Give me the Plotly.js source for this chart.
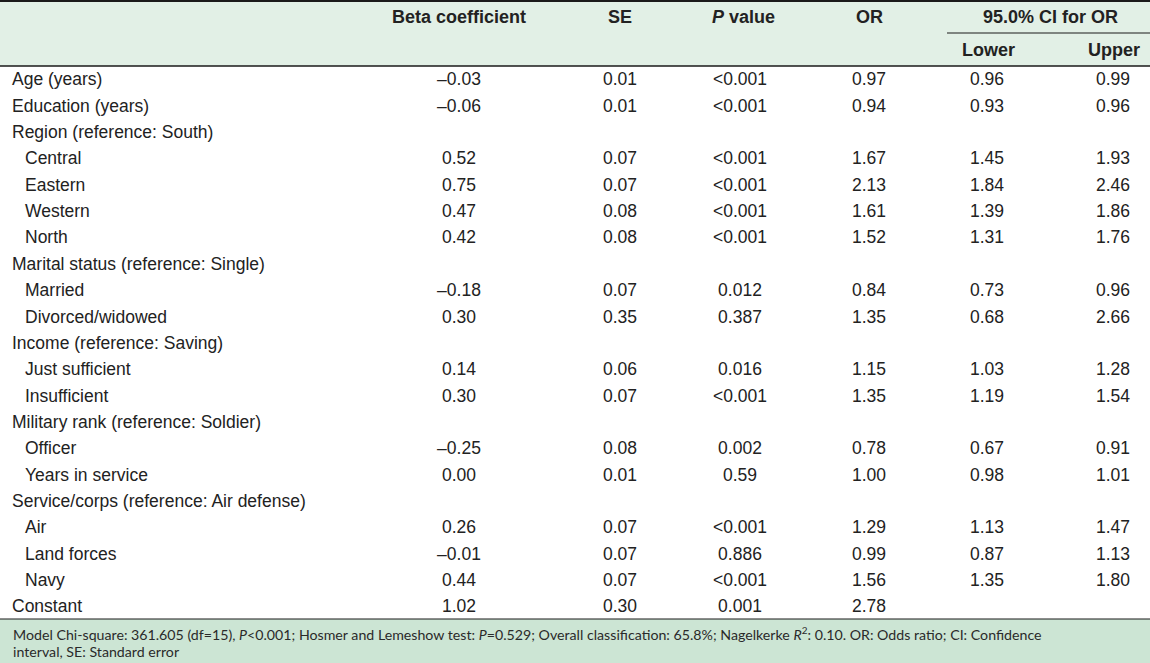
<!DOCTYPE html>
<html>
<head>
<meta charset="utf-8">
<script src="https://cdn.plot.ly/plotly-3.0.1.min.js"></script>
<style>html,body{margin:0;padding:0;background:#fff;}#chart{width:1150px;height:663px;}</style>
</head>
<body>
<div id="chart"></div>
<script>
// ---- Data ----
const rowLabels = ["Age (years)","Education (years)","Region (reference: South)","Central","Eastern","Western","North",
  "Marital status (reference: Single)","Married","Divorced/widowed","Income (reference: Saving)","Just sufficient","Insufficient",
  "Military rank (reference: Soldier)","Officer","Years in service","Service/corps (reference: Air defense)","Air","Land forces","Navy","Constant"];
const rowIndent = [0,0,0,1,1,1,1,0,1,1,0,1,1,0,1,1,0,1,1,1,0];
const betaCoef = [-0.03,-0.06,null,0.52,0.75,0.47,0.42,null,-0.18,0.30,null,0.14,0.30,null,-0.25,0.00,null,0.26,-0.01,0.44,1.02];
const seVals   = [0.01,0.01,null,0.07,0.07,0.08,0.08,null,0.07,0.35,null,0.06,0.07,null,0.08,0.01,null,0.07,0.07,0.07,0.30];
const pVals    = ["<0.001","<0.001",null,"<0.001","<0.001","<0.001","<0.001",null,"0.012","0.387",null,"0.016","<0.001",null,"0.002","0.59",null,"<0.001","0.886","<0.001","0.001"];
const orVals   = [0.97,0.94,null,1.67,2.13,1.61,1.52,null,0.84,1.35,null,1.15,1.35,null,0.78,1.00,null,1.29,0.99,1.56,2.78];
const ciLower  = [0.96,0.93,null,1.45,1.84,1.39,1.31,null,0.73,0.68,null,1.03,1.19,null,0.67,0.98,null,1.13,0.87,1.35,null];
const ciUpper  = [0.99,0.96,null,1.93,2.46,1.86,1.76,null,0.96,2.66,null,1.28,1.54,null,0.91,1.01,null,1.47,1.13,1.80,null];
const headerLabels = ["Beta coefficient","SE","<i>P</i> value","OR","95.0% CI for OR"];
const subHeaderLabels = ["Lower","Upper"];
const footnoteLines = [
  "Model Chi-square: 361.605 (df=15), <i>P</i>&lt;0.001; Hosmer and Lemeshow test: <i>P</i>=0.529; Overall classification: 65.8%; Nagelkerke <i>R</i><sup>2</sup>: 0.10. OR: Odds ratio; CI: Confidence",
  "interval, SE: Standard error"
];

// ---- Layout geometry (pixels) ----
const W = 1150, H = 663;
const firstRowPx = 81, lastRowPx = 608;
const nRows = rowLabels.length;
const rowStep = (lastRowPx - firstRowPx) / (nRows - 1);
const yTop = -firstRowPx / rowStep;          // row value at pixel 0
const yBot = (H - firstRowPx) / rowStep;     // row value at pixel H
const py = px => 1 - px / H;                 // pixel -> paper

const colX = {beta: 459, se: 620, p: 740, or: 869, lower: 987, upper: 1113};
const labelX = [12, 25];

const fmtNum = v => v.toFixed(2).replace("-", "\u2013");
const esc = s => s.replace("<", "&lt;");

const bodyFont = {family: "Liberation Sans, Arial, sans-serif", size: 17.5, color: "#222"};

function colTrace(x, vals, f) {
  const idx = vals.map((v, i) => (v === null ? -1 : i)).filter(i => i >= 0);
  return {type: "scatter", mode: "text", x: idx.map(() => x), y: idx, text: idx.map(i => f(vals[i])),
    textposition: "middle center", textfont: bodyFont, hoverinfo: "skip", showlegend: false, cliponaxis: false};
}

const traces = [
  {type: "scatter", mode: "text", x: rowLabels.map((_, i) => labelX[rowIndent[i]]), y: rowLabels.map((_, i) => i), text: rowLabels,
   textposition: "middle right", textfont: bodyFont, hoverinfo: "skip", showlegend: false, cliponaxis: false},
  colTrace(colX.beta, betaCoef, fmtNum),
  colTrace(colX.se, seVals, fmtNum),
  colTrace(colX.p, pVals, esc),
  colTrace(colX.or, orVals, fmtNum),
  colTrace(colX.lower, ciLower, fmtNum),
  colTrace(colX.upper, ciUpper, fmtNum)
];

const headFont = {family: "Liberation Sans, Arial, sans-serif", size: 18, color: "#222"};
const headX = [colX.beta, colX.se, 743, colX.or, 1050];
const annotations = headerLabels.map((t, i) => ({
  x: headX[i], xref: "x", y: py(17), yref: "paper", text: "<b>" + t + "</b>",
  showarrow: false, xanchor: "center", yanchor: "middle", font: headFont
})).concat(subHeaderLabels.map((t, i) => ({
  x: [988, 1114][i], xref: "x", y: py(50), yref: "paper", text: "<b>" + t + "</b>",
  showarrow: false, xanchor: "center", yanchor: "middle", font: headFont
}))).concat(footnoteLines.map((t, i) => ({
  x: 12, xref: "x", y: py([633, 651][i]), yref: "paper", text: t, showarrow: false,
  xanchor: "left", yanchor: "middle", borderpad: 0,
  font: {family: "Lato, Open Sans, sans-serif", size: 14.2, color: "#2a2a2a"}
})));

const shapes = [
  {type: "rect", xref: "paper", yref: "paper", x0: 0, x1: 1, y0: py(66), y1: 1, fillcolor: "#e2f0e6", line: {width: 0}, layer: "below"},
  {type: "rect", xref: "paper", yref: "paper", x0: 0, x1: 1, y0: 0, y1: py(619), fillcolor: "#cce5d4", line: {width: 0}, layer: "below"},
  {type: "line", xref: "paper", yref: "paper", x0: 0, x1: 1, y0: py(1), y1: py(1), line: {color: "#1a1a1a", width: 2}},
  {type: "line", xref: "paper", yref: "paper", x0: 0, x1: 1, y0: py(66), y1: py(66), line: {color: "#1a1a1a", width: 1.5}},
  {type: "line", xref: "x", yref: "paper", x0: 947, x1: W, y0: py(33), y1: py(33), line: {color: "#1a1a1a", width: 1.2}},
  {type: "line", xref: "paper", yref: "paper", x0: 0, x1: 1, y0: py(619), y1: py(619), line: {color: "#1a1a1a", width: 1.2}}
];

const layout = {
  width: W, height: H,
  margin: {l: 0, r: 0, t: 0, b: 0, pad: 0},
  paper_bgcolor: "#ffffff", plot_bgcolor: "rgba(0,0,0,0)",
  xaxis: {range: [0, W], visible: false, fixedrange: true},
  yaxis: {range: [yBot, yTop], visible: false, fixedrange: true},
  shapes: shapes, annotations: annotations, showlegend: false
};

Plotly.newPlot("chart", traces, layout, {staticPlot: true, displayModeBar: false});
</script>
</body>
</html>
